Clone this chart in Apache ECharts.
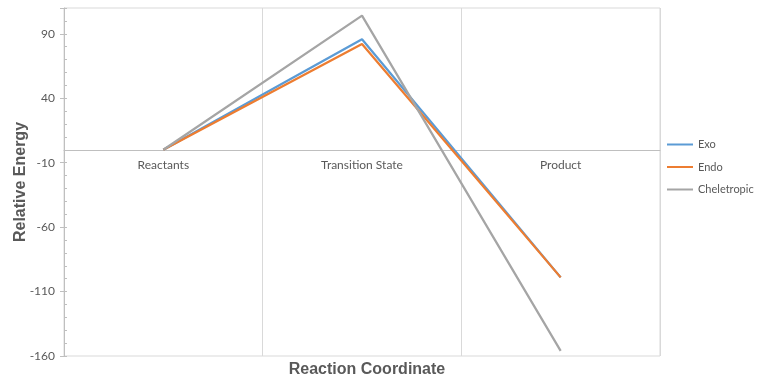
<!DOCTYPE html>
<html><head><meta charset="utf-8">
<script src="https://cdn.jsdelivr.net/npm/echarts@6/dist/echarts.min.js"></script>
<style>html,body{margin:0;padding:0;background:#fff}#c{width:757px;height:382px}</style>
</head><body><div id="c"></div>
<script>
var categories = ['Reactants', 'Transition State', 'Product'];
var exo = [0, 85.7, -99];
var endo = [0, 82.1, -99];
var cheletropic = [0, 104.1, -156];
var yTicks = [-160, -110, -60, -10, 40, 90];
var yMin = -160, yMax = 110;

var chart = echarts.init(document.getElementById('c'));
var txt = '#595959';
var font = 'Lato, "Open Sans", sans-serif';
var gridTop = 8, gridBottom = 26, H = 382;
var plotH = H - gridTop - gridBottom;
var zeroOffset = -plotH * (0 - yMin) / (yMax - yMin);
chart.setOption({
  animation: false,
  textStyle: {fontFamily: font},
  title: {
    text: 'Reaction Coordinate', left: 362, top: 357, textAlign: 'center',
    textStyle: {fontSize: 16, fontWeight: 'bold', color: txt, fontFamily: '"Liberation Sans", Arial, sans-serif'}
  },
  grid: {left: 64, right: 97, top: gridTop, bottom: gridBottom, show: true, borderColor: '#d9d9d9', borderWidth: 1,
    containLabel: false, outerBoundsMode: 'none'},
  legend: {
    orient: 'vertical', left: 662, top: 134, itemWidth: 26, itemHeight: 2, itemGap: 11.5,
    icon: 'rect',
    textStyle: {fontSize: 11, color: txt, fontFamily: font},
    data: ['Exo', 'Endo', 'Cheletropic']
  },
  xAxis: {
    type: 'category', data: categories, boundaryGap: true, position: 'bottom', offset: zeroOffset,
    axisLine: {onZero: false, lineStyle: {color: '#bfbfbf'}},
    axisTick: {show: false},
    axisLabel: {color: txt, fontSize: 12, margin: 9, fontFamily: font},
    splitLine: {show: true, lineStyle: {color: '#d9d9d9'}}
  },
  yAxis: [{
    type: 'value', min: yMin, max: yMax, interval: 50, position: 'left', offset: 0,
    name: 'Relative Energy', nameLocation: 'middle', nameGap: 35, nameRotate: 90, nameMoveOverlap: false,
    nameTextStyle: {fontSize: 16, fontWeight: 'bold', color: txt, fontFamily: '"Liberation Sans", Arial, sans-serif'},
    axisLine: {show: true, onZero: false, lineStyle: {color: '#bfbfbf'}},
    axisTick: {show: true, length: 4, lineStyle: {color: '#bfbfbf'}},
    axisLabel: {color: txt, fontSize: 12, margin: 9, fontFamily: font,
      formatter: function (v) { return yTicks.indexOf(v) >= 0 ? String(v) : ''; }},
    splitLine: {show: false}
  }, {
    type: 'value', min: yMin, max: yMax, interval: 10, position: 'left', offset: 0,
    axisLine: {show: false, onZero: false},
    axisTick: {show: true, inside: true, length: 3, lineStyle: {color: '#bfbfbf'}},
    axisLabel: {show: false},
    splitLine: {show: false}
  }],
  series: [
    {name: 'Exo', type: 'line', data: exo, symbol: 'none', lineStyle: {width: 2.25, color: '#5b9bd5'}, itemStyle: {color: '#5b9bd5'}},
    {name: 'Endo', type: 'line', data: endo, symbol: 'none', lineStyle: {width: 2.25, color: '#ed7d31'}, itemStyle: {color: '#ed7d31'}},
    {name: 'Cheletropic', type: 'line', data: cheletropic, symbol: 'none', lineStyle: {width: 2.25, color: '#a5a5a5'}, itemStyle: {color: '#a5a5a5'}}
  ]
});
</script></body></html>
